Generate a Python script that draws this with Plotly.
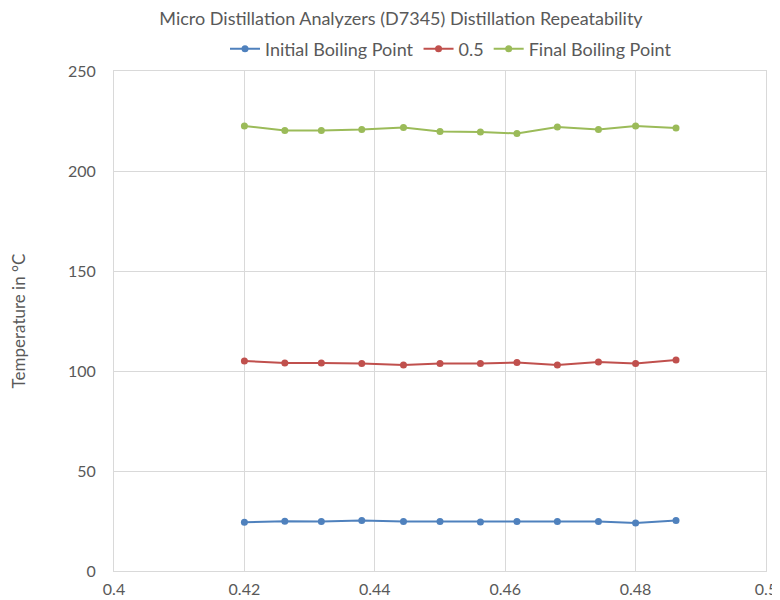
import plotly.graph_objects as go

x_vals = [0.42, 0.4262, 0.4318, 0.438, 0.4444, 0.45, 0.4562, 0.4618, 0.468, 0.4743, 0.48, 0.4862]
ibp = [24.4, 24.9, 24.7, 25.2, 24.7, 24.7, 24.5, 24.7, 24.7, 24.7, 24.0, 25.2]
mid = [105.0, 104.0, 104.0, 103.7, 103.0, 103.7, 103.8, 104.2, 103.0, 104.5, 103.7, 105.5]
fbp = [222.5, 220.3, 220.3, 220.7, 221.7, 219.7, 219.5, 218.8, 222.0, 220.8, 222.5, 221.5]

series_names = ["Initial Boiling Point", "0.5", "Final Boiling Point"]
series_colors = ["#4F81BD", "#C0504D", "#9BBB59"]

x_ticks = [0.4, 0.42, 0.44, 0.46, 0.48, 0.5]
x_tick_text = ["0.4", "0.42", "0.44", "0.46", "0.48", "0.5"]
y_ticks = [0, 50, 100, 150, 200, 250]

FONT = "Lato"
TXT = "#595959"

# page body has an 8px margin, so the figure is drawn 8px in from the corner
W, H = 772, 592
L, T = 106, 63
PW, PH = 652, 500

fig = go.Figure()
for name, ys, col in zip(series_names, [ibp, mid, fbp], series_colors):
    fig.add_trace(go.Scatter(
        x=x_vals, y=ys, name=name, mode="lines+markers",
        line=dict(color=col, width=2),
        marker=dict(color=col, size=7),
    ))

fig.update_layout(
    width=W, height=H,
    margin=dict(l=L, r=W - L - PW, t=T, b=H - T - PH, autoexpand=False),
    paper_bgcolor="white", plot_bgcolor="white",
    font=dict(family=FONT, color=TXT, size=16),
    title=dict(
        text="Micro Distillation Analyzers (D7345) Distillation Repeatability",
        x=393 / W, xref="container", xanchor="center",
        y=1 - 11 / H, yref="container", yanchor="middle",
        font=dict(family=FONT, size=18, color=TXT),
    ),
    legend=dict(
        orientation="h", x=(443 - L) / PW, xanchor="center",
        y=1 + (T - 41) / PH, yanchor="middle",
        font=dict(family=FONT, size=18, color=TXT),
        itemwidth=30, tracegroupgap=0,
    ),
    showlegend=True,
)
fig.update_xaxes(
    range=[0.4, 0.5], tickvals=x_ticks, ticktext=x_tick_text,
    showgrid=True, gridcolor="#D9D9D9", gridwidth=1,
    showline=True, linecolor="#D9D9D9", linewidth=1, mirror=True,
    zeroline=False, ticks="", ticklabelstandoff=4, automargin=False,
    tickfont=dict(family=FONT, size=16, color=TXT),
)
fig.update_yaxes(
    range=[0, 250], tickvals=y_ticks,
    showgrid=True, gridcolor="#D9D9D9", gridwidth=1,
    showline=True, linecolor="#D9D9D9", linewidth=1, mirror=True,
    zeroline=False, ticks="", ticklabelstandoff=14, automargin=False,
    tickfont=dict(family=FONT, size=16, color=TXT),
    title=dict(text="Temperature in °C", font=dict(family=FONT, size=17, color=TXT), standoff=38),
)

fig.write_html("out.html")
